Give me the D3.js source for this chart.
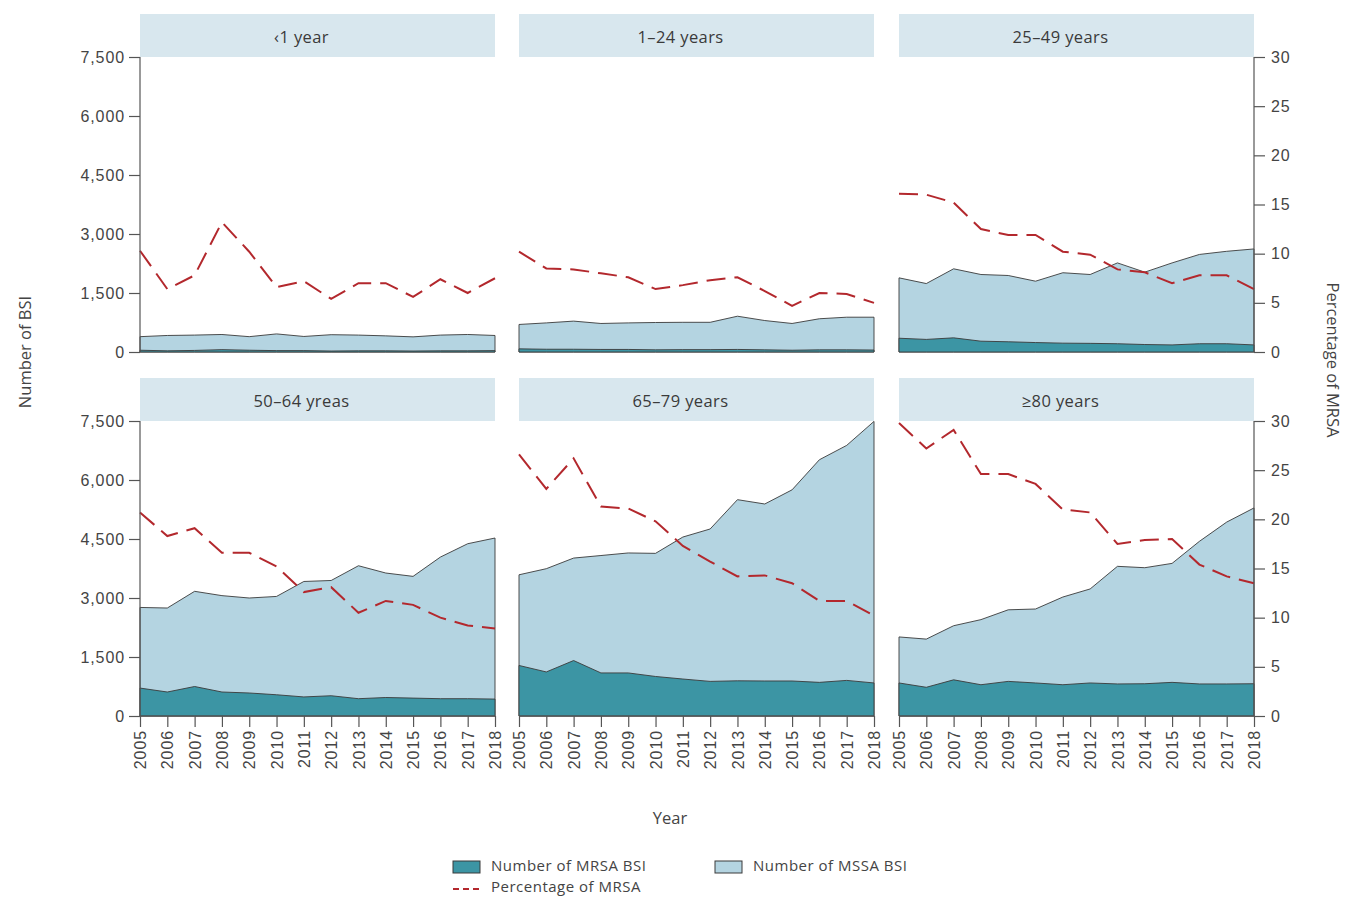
<!DOCTYPE html>
<html lang="en">
<head>
<meta charset="UTF-8">
<script src="https://d3js.org/d3.v7.min.js"></script>
<title>MRSA / MSSA BSI by age group</title>
<style>
    body { margin: 0; background: #fff; }
    svg { font-family: "Open Sans", "Noto Sans", sans-serif; }
    .axis text { font-size: 16px; fill: #444; letter-spacing: 0.9px; }
    .axis path, .axis line { stroke: #555; stroke-width: 1.2; }
</style>
</head>
<body>
<div id="canvas"></div>
<script>
    // data
    var years = [2005, 2006, 2007, 2008, 2009, 2010, 2011, 2012, 2013, 2014, 2015, 2016, 2017, 2018];
    var ageGroups = ["\u20391 year", "1\u201324 years", "25\u201349 years", "50\u201364 yreas", "65\u201379 years", "\u226580 years"];

    // number of MRSA BSI per age group
    var mrsa1 = [45, 30, 40, 60, 45, 35, 35, 25, 30, 30, 25, 30, 30, 35];
    var mrsa2 = [80, 70, 70, 65, 65, 55, 60, 60, 65, 55, 45, 55, 55, 50];
    var mrsa3 = [350, 320, 360, 275, 260, 240, 225, 220, 210, 190, 180, 210, 210, 180];
    var mrsa4 = [710, 610, 750, 610, 585, 540, 485, 515, 440, 470, 455, 440, 440, 430];
    var mrsa5 = [1285, 1120, 1410, 1095, 1095, 1005, 940, 880, 895, 890, 890, 855, 905, 840];
    var mrsa6 = [840, 730, 920, 795, 880, 840, 795, 840, 815, 820, 855, 815, 815, 820];

    // total BSI (MRSA + MSSA) per age group
    var total1 = [390, 420, 430, 445, 390, 460, 395, 440, 430, 410, 385, 430, 445, 420];
    var total2 = [700, 740, 785, 725, 740, 750, 755, 755, 910, 800, 725, 845, 885, 885];
    var total3 = [1885, 1740, 2115, 1970, 1945, 1800, 2015, 1970, 2265, 2030, 2265, 2480, 2560, 2620];
    var total4 = [2760, 2745, 3170, 3060, 3000, 3040, 3420, 3445, 3820, 3635, 3550, 4040, 4380, 4525];
    var total5 = [3590, 3745, 4015, 4080, 4145, 4135, 4550, 4755, 5500, 5390, 5750, 6515, 6880, 7490];
    var total6 = [2010, 1955, 2295, 2450, 2700, 2720, 3025, 3230, 3805, 3770, 3880, 4440, 4930, 5290];

    // percentage of MRSA per age group
    var pct1 = [10.3, 6.4, 7.8, 13.2, 10.2, 6.6, 7.2, 5.4, 7.0, 7.0, 5.6, 7.4, 6.0, 7.5];
    var pct2 = [10.2, 8.5, 8.4, 8.0, 7.6, 6.4, 6.8, 7.3, 7.6, 6.2, 4.7, 6.0, 5.9, 5.0];
    var pct3 = [16.1, 16.0, 15.2, 12.5, 11.9, 11.9, 10.2, 9.9, 8.4, 8.1, 7.0, 7.8, 7.8, 6.4];
    var pct4 = [20.7, 18.3, 19.1, 16.6, 16.6, 15.2, 12.6, 13.1, 10.5, 11.7, 11.3, 10.0, 9.2, 8.9];
    var pct5 = [26.6, 23.1, 26.2, 21.3, 21.1, 19.8, 17.3, 15.7, 14.2, 14.3, 13.5, 11.7, 11.7, 10.2];
    var pct6 = [29.8, 27.2, 29.1, 24.6, 24.6, 23.6, 21.0, 20.7, 17.5, 17.9, 18.0, 15.4, 14.2, 13.5];

    var countTicks = [0, 1500, 3000, 4500, 6000, 7500];
    var pctTicks = [0, 5, 10, 15, 20, 25, 30];

    var mrsaList = [mrsa1, mrsa2, mrsa3, mrsa4, mrsa5, mrsa6];
    var totalList = [total1, total2, total3, total4, total5, total6];
    var pctList = [pct1, pct2, pct3, pct4, pct5, pct6];

    var W = 1346, H = 897;
    var colX = [140, 519, 899], panelW = 355;
    var rowY = [57, 421], panelH = 295, stripH = 42;

    var colMRSA = "#3c95a4", colMSSA = "#b4d4e1", colLine = "#b3282d", colStrip = "#d8e7ee";

    var svg = d3.select("#canvas").append("svg")
        .attr("width", W).attr("height", H);

    var x = d3.scaleLinear().domain([2005, 2018]).range([0, panelW]);
    var y = d3.scaleLinear().domain([0, 7500]).range([panelH, 0]);
    var yp = d3.scaleLinear().domain([0, 30]).range([panelH, 0]);

    ageGroups.forEach(function (name, i) {
        var c = i % 3, r = Math.floor(i / 3);
        var g = svg.append("g").attr("transform", "translate(" + colX[c] + "," + rowY[r] + ")");

        // strip
        g.append("rect").attr("x", 0).attr("y", -stripH - 1)
            .attr("width", panelW).attr("height", stripH + 1).attr("fill", colStrip);
        g.append("text").attr("x", panelW / 2 - 16).attr("y", -stripH / 2 + 1)
            .attr("text-anchor", "middle").attr("dy", "0.35em")
            .style("font-size", "16.5px").style("letter-spacing", "0.4px")
            .style("fill", "#3a3a3a").text(name);

        var rows = years.map(function (yr, k) {
            return { year: yr, mrsa: mrsaList[i][k], total: totalList[i][k], pct: pctList[i][k] };
        });

        var areaTotal = d3.area().x(function (d) { return x(d.year); })
            .y0(y(0)).y1(function (d) { return y(d.total); });
        var areaMrsa = d3.area().x(function (d) { return x(d.year); })
            .y0(y(0)).y1(function (d) { return y(d.mrsa); });

        g.append("path").datum(rows).attr("d", areaTotal)
            .attr("fill", colMSSA).attr("stroke", "#3a3a3a").attr("stroke-width", 0.9);
        g.append("path").datum(rows).attr("d", areaMrsa)
            .attr("fill", colMRSA).attr("stroke", "#3a3a3a").attr("stroke-width", 0.9);

        var line = d3.line().x(function (d) { return x(d.year); })
            .y(function (d) { return yp(d.pct); });
        g.append("path").datum(rows).attr("d", line)
            .attr("fill", "none").attr("stroke", colLine).attr("stroke-width", 2)
            .attr("stroke-dasharray", "19,9");

        if (c === 0) {
            g.append("g").attr("class", "axis")
                .call(d3.axisLeft(y).tickValues(countTicks).tickSize(11).tickPadding(4)
                    .tickFormat(d3.format(",")))
                .call(function (a) { a.select(".domain").attr("d", "M0," + panelH + "V0"); });
        }
        if (c === 2) {
            g.append("g").attr("class", "axis").attr("transform", "translate(" + panelW + ",0)")
                .call(d3.axisRight(yp).tickValues(pctTicks).tickSize(11).tickPadding(6))
                .call(function (a) { a.select(".domain").attr("d", "M0," + panelH + "V0"); });
        }
        if (r === 1) {
            var xa = g.append("g").attr("class", "axis").attr("transform", "translate(0," + panelH + ")")
                .call(d3.axisBottom(x).tickValues(years).tickSize(11).tickFormat(d3.format("d")));
            xa.select(".domain").attr("d", "M0,0H" + panelW);
            xa.selectAll(".tick text")
                .attr("transform", "rotate(-90)")
                .attr("text-anchor", "end")
                .attr("x", -14).attr("y", 0).attr("dy", "0.35em");
        }
    });

    // axis titles
    svg.append("text").attr("transform", "translate(25,352) rotate(-90)")
        .attr("text-anchor", "middle").attr("dy", "0.35em")
        .style("font-size", "16.5px").style("fill", "#444").text("Number of BSI");
    svg.append("text").attr("transform", "translate(1333,360) rotate(90)")
        .attr("text-anchor", "middle").attr("dy", "0.35em")
        .style("font-size", "16.5px").style("fill", "#444").text("Percentage of MRSA");
    svg.append("text").attr("x", 670).attr("y", 818)
        .attr("text-anchor", "middle").attr("dy", "0.35em")
        .style("font-size", "16.5px").style("fill", "#444").text("Year");

    // legend
    var legend = [
        { label: "Number of MRSA BSI", type: "rect", fill: colMRSA, x: 453, y: 866 },
        { label: "Number of MSSA BSI", type: "rect", fill: colMSSA, x: 715, y: 866 },
        { label: "Percentage of MRSA", type: "line", x: 453, y: 887 }
    ];
    var lg = svg.append("g").selectAll("g").data(legend).enter().append("g")
        .attr("transform", function (d) { return "translate(" + d.x + "," + d.y + ")"; });
    lg.filter(function (d) { return d.type === "rect"; }).append("rect")
        .attr("x", 0).attr("y", -5).attr("width", 27).attr("height", 12)
        .attr("fill", function (d) { return d.fill; }).attr("stroke", "#3a3a3a").attr("stroke-width", 1);
    lg.filter(function (d) { return d.type === "line"; }).append("line")
        .attr("x1", 0).attr("x2", 28).attr("y1", 2).attr("y2", 2)
        .attr("stroke", colLine).attr("stroke-width", 2).attr("stroke-dasharray", "6,4");
    lg.append("text").attr("x", 38).attr("dy", "0.35em")
        .style("font-size", "15px").style("letter-spacing", "0.5px").style("fill", "#444")
        .text(function (d) { return d.label; });
</script>
</body>
</html>
